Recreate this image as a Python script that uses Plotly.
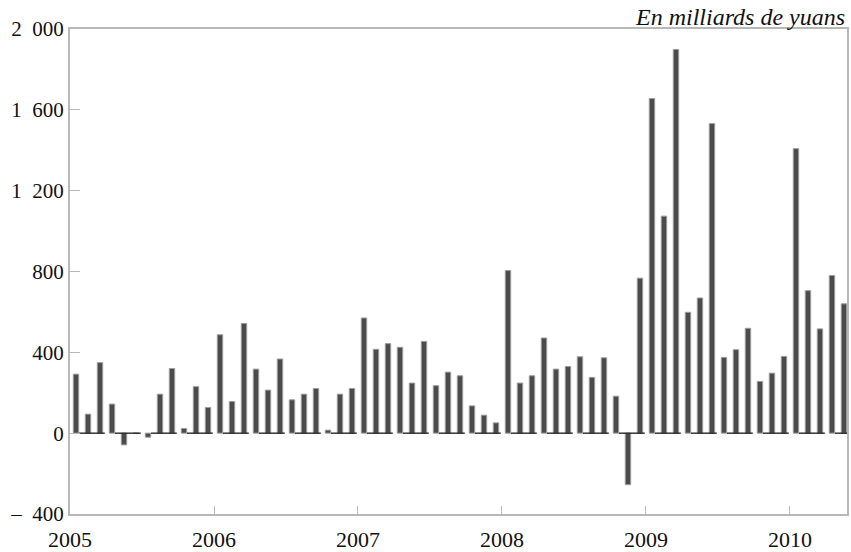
import plotly.graph_objs as go


years = [2005, 2006, 2007, 2008, 2009, 2010]
year_labels = ['2005', '2006', '2007', '2008', '2009', '2010']

# monthly values, Jan 2005 .. May 2010 (milliards de yuans)
values_2005 = [292, 94, 349, 144, -58, 0, -20, 193, 320, 23, 230, 127]
values_2006 = [487, 157, 543, 317, 213, 367, 165, 193, 221, 15, 193, 221]
values_2007 = [570, 415, 443, 425, 248, 454, 235, 302, 284, 135, 89, 51]
values_2008 = [805, 248, 284, 471, 317, 330, 378, 276, 373, 183, -255, 767]
values_2009 = [1656, 1074, 1899, 598, 669, 1532, 375, 413, 519, 256, 297, 380]
values_2010 = [1408, 705, 516, 780, 640]

y_ticks = [-400, 0, 400, 800, 1200, 1600, 2000]
y_labels = ['\u2013\u00a0\u00a0400', '0', '400', '800', '1\u00a0\u00a0200', '1\u00a0\u00a0600', '2\u00a0\u00a0000']

values = values_2005 + values_2006 + values_2007 + values_2008 + values_2009 + values_2010
months = [years[0] + (i + 0.5) / 12 for i in range(len(values))]

# zero line broken at the first month of each quarter
zero_x = []
zero_y = []
for i in range(0, len(values), 3):
    zero_x += [years[0] + (i + 0.75) / 12, years[0] + (i + 2.9) / 12, None]
    zero_y += [0, 0, None]

bars = go.Bar(
    x=months,
    y=values,
    width=0.45 / 12,
    marker=dict(color='#4b4b4b', line=dict(color='#9c9c9c', width=1)),
    showlegend=False,
)
zero = go.Scatter(
    x=zero_x,
    y=zero_y,
    mode='lines',
    line=dict(color='#1a1a1a', width=1.3),
    showlegend=False,
    hoverinfo='skip',
)

layout = go.Layout(
    width=851,
    height=552,
    margin=dict(l=70, r=4, t=29, b=38),
    paper_bgcolor='white',
    plot_bgcolor='white',
    font=dict(family='Liberation Serif, Times New Roman, serif', size=21, color='#111111'),
    xaxis=dict(
        range=[2005, 2010.396],
        tickvals=years,
        ticktext=year_labels,
        ticks='inside',
        ticklen=8,
        tickcolor='#b8b8b8',
        tickfont=dict(size=22),
        ticklabelstandoff=5,
        automargin=False,
        showgrid=False,
        zeroline=False,
        showline=True,
        linecolor='#b8b8b8',
        linewidth=2,
        mirror=True,
    ),
    yaxis=dict(
        range=[-400, 2000],
        tickvals=y_ticks,
        ticktext=y_labels,
        ticks='inside',
        ticklen=10,
        tickcolor='#b8b8b8',
        automargin=False,
        showgrid=False,
        zeroline=False,
        showline=True,
        linecolor='#b8b8b8',
        linewidth=2,
        mirror=True,
    ),
    annotations=[dict(
        text='<i>En milliards de yuans</i>',
        xref='paper', yref='paper',
        x=1.0, y=1.0,
        xanchor='right', yanchor='bottom',
        yshift=-3,
        showarrow=False,
        font=dict(size=24),
    )],
)

fig = go.Figure(data=[bars, zero], layout=layout)
# drop the default page margin so the figure fills the window exactly
fig.write_html(
    'out.html',
    config={'displayModeBar': False},
    post_script="document.body.style.margin='0';document.body.style.overflow='hidden';",
)
